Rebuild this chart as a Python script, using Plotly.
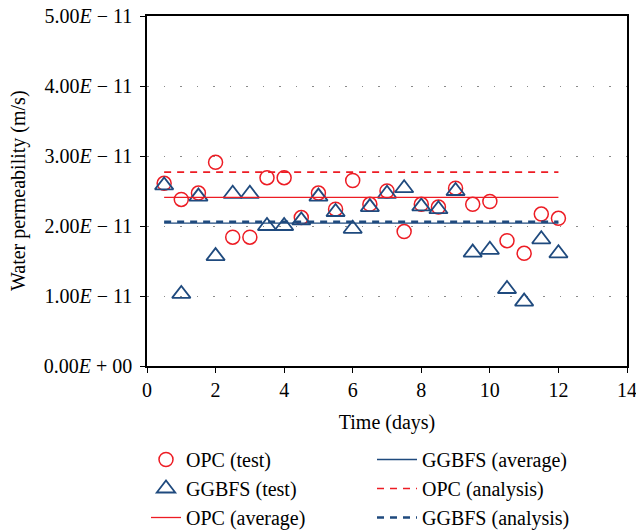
import plotly.graph_objects as go

# ---- data (values in units of 1e-11 m/s) ----
time_days = [0.5, 1, 1.5, 2, 2.5, 3, 3.5, 4, 4.5, 5, 5.5, 6,
             6.5, 7, 7.5, 8, 8.5, 9, 9.5, 10, 10.5, 11, 11.5, 12]
opc_test = [2.61, 2.38, 2.47, 2.91, 1.84, 1.84, 2.69, 2.69, 2.12, 2.47, 2.24, 2.65,
            2.31, 2.50, 1.92, 2.31, 2.27, 2.54, 2.31, 2.35, 1.79, 1.61, 2.17, 2.11]
ggbfs_test = [2.58, 1.03, 2.42, 1.57, 2.46, 2.46, 2.00, 2.00, 2.08, 2.42, 2.20, 1.96,
              2.27, 2.46, 2.54, 2.28, 2.24, 2.50, 1.62, 1.66, 1.10, 0.92, 1.81, 1.61]
line_span = [0.5, 12]
opc_average = 2.41
ggbfs_average = 2.04
opc_analysis = 2.77
ggbfs_analysis = 2.06
scale = 1e-11

y_tick_vals = [0, 1, 2, 3, 4, 5]
y_tick_text = ["0.00<i>E</i> + 00", "1.00<i>E</i> \u2212 11", "2.00<i>E</i> \u2212 11",
               "3.00<i>E</i> \u2212 11", "4.00<i>E</i> \u2212 11", "5.00<i>E</i> \u2212 11"]
x_title = "Time (days)"
y_title = "Water permeability (m/s)"

RED = "#ED1C24"
BLUE = "#1F4A7E"
FONT = "Liberation Serif"

fig = go.Figure()

def sc(v):
    return [x * scale for x in v]

fig.add_trace(go.Scatter(
    x=time_days, y=sc(opc_test), mode="markers", name="OPC (test)",
    marker=dict(symbol="circle-open", size=14, color=RED, line=dict(width=1.5, color=RED)),
    legend="legend"))
fig.add_trace(go.Scatter(
    x=time_days, y=sc(ggbfs_test), mode="markers", name="GGBFS (test)",
    marker=dict(symbol="triangle-up-open", size=16, color=BLUE, line=dict(width=1.8, color=BLUE)),
    legend="legend"))
fig.add_trace(go.Scatter(
    x=line_span, y=sc([opc_average] * 2), mode="lines", name="OPC (average)",
    line=dict(color=RED, width=1.3), legend="legend"))
fig.add_trace(go.Scatter(
    x=line_span, y=sc([ggbfs_average] * 2), mode="lines", name="GGBFS (average)",
    line=dict(color=BLUE, width=1.3), legend="legend2"))
fig.add_trace(go.Scatter(
    x=line_span, y=sc([opc_analysis] * 2), mode="lines", name="OPC (analysis)",
    line=dict(color=RED, width=1.6, dash="7px,6px"), legend="legend2"))
fig.add_trace(go.Scatter(
    x=line_span, y=sc([ggbfs_analysis] * 2), mode="lines", name="GGBFS (analysis)",
    line=dict(color=BLUE, width=2.6, dash="7px,6px"), legend="legend2"))

W, H = 636, 532
L, R, T, B = 147, 9, 16, 166
LEG_TOP = 440
fig.update_layout(
    width=W, height=H,
    margin=dict(l=L, r=R, t=T, b=B, autoexpand=False),
    plot_bgcolor="white", paper_bgcolor="white",
    font=dict(family=FONT, size=20, color="black"),
    showlegend=True,
    legend=dict(x=146 / W, y=1 - LEG_TOP / H, xref="container", yref="container",
                xanchor="left", yanchor="top", bgcolor="rgba(0,0,0,0)",
                font=dict(family=FONT, size=20, color="black")),
    legend2=dict(x=372 / W, y=1 - LEG_TOP / H, xref="container", yref="container",
                 xanchor="left", yanchor="top", bgcolor="rgba(0,0,0,0)",
                 itemwidth=40,
                 font=dict(family=FONT, size=20, color="black")),
    annotations=[dict(
        text=y_title, textangle=-90, showarrow=False,
        xref="paper", yref="paper", x=(18 - L) / (W - L - R), y=0.5,
        xanchor="center", yanchor="middle",
        font=dict(family=FONT, size=20, color="black"))],
)
fig.update_xaxes(
    range=[0, 14], tickmode="linear", tick0=0, dtick=2,
    showline=True, linecolor="black", linewidth=1.5, mirror=True,
    ticks="outside", ticklen=5, tickwidth=1.2, tickcolor="black",
    showgrid=False, zeroline=False, ticklabeloverflow="allow",
    tickfont=dict(family=FONT, size=20),
    title=dict(text=x_title, font=dict(family=FONT, size=20)),
)
fig.update_yaxes(
    range=[0, 5 * scale], tickmode="array",
    tickvals=[v * scale for v in y_tick_vals], ticktext=y_tick_text,
    showline=True, linecolor="black", linewidth=1.5, mirror=True,
    ticks="outside", ticklen=5, tickwidth=1.2, tickcolor="black",
    showgrid=True, gridcolor="#8a8a8a", gridwidth=1.2, griddash="1.5px,15px",
    zeroline=False, ticklabelstandoff=4, ticklabeloverflow="allow",
    tickfont=dict(family=FONT, size=20),
)

fig.write_html("out.html", config={"displayModeBar": False},
               post_script="document.body.style.margin='0px';")
